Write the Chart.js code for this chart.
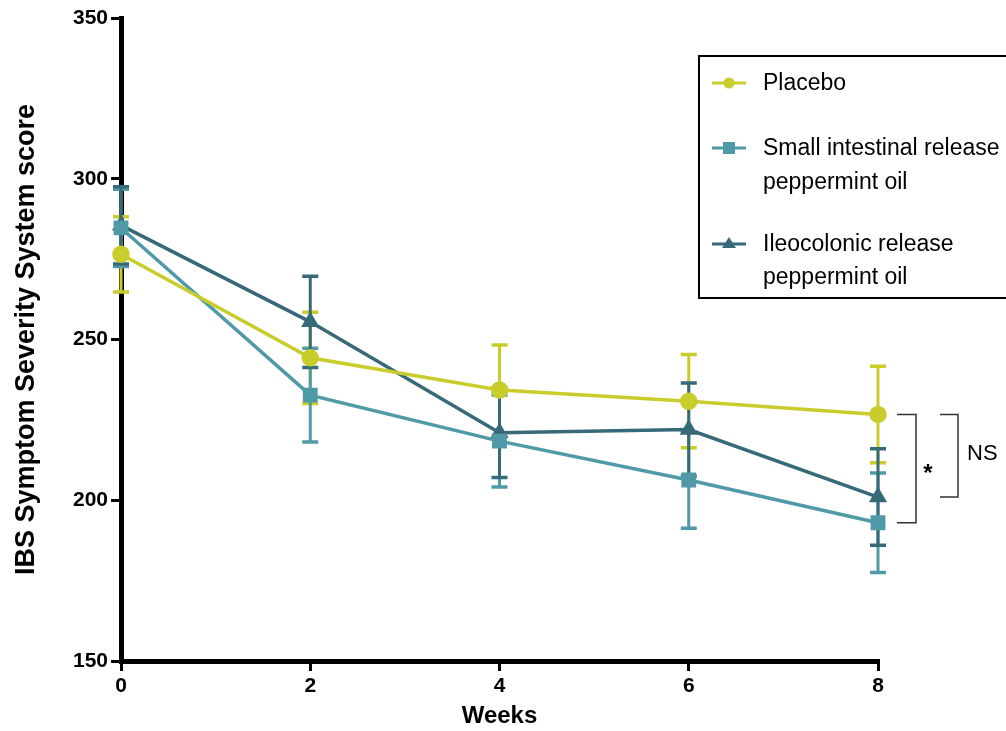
<!DOCTYPE html>
<html>
<head>
<meta charset="utf-8">
<script src="https://cdn.jsdelivr.net/npm/chart.js@4"></script>
<style>
  html, body { margin: 0; padding: 0; background: #ffffff; }
  #wrap { width: 1006px; height: 731px; }
</style>
</head>
<body>
<div id="wrap"><canvas id="c" width="1006" height="731"></canvas></div>
<script>
// ---- data ----
const weeks = [0, 2, 4, 6, 8];
const placebo = [276.5, 244.3, 234.3, 230.8, 226.7];
const placeboErr = [11.7, 14.2, 14.0, 14.5, 15.0];
const smallIntestinal = [284.7, 232.7, 218.4, 206.3, 193.0];
const smallIntestinalErr = [12.0, 14.6, 14.3, 15.0, 15.5];
const ileocolonic = [285.5, 255.5, 221.0, 222.0, 201.0];
const ileocolonicErr = [12.0, 14.2, 13.9, 14.5, 15.0];
const yTicks = [150, 200, 250, 300, 350];
const xTicks = [0, 2, 4, 6, 8];
const seriesNames = ['Placebo', 'Small intestinal release\npeppermint oil', 'Ileocolonic release\npeppermint oil'];

const COL_P = '#c9cd2c';
const COL_S = '#4f9aa6';
const COL_I = '#376a78';
const FONT = '"Liberation Sans", Arial, Helvetica, sans-serif';

function pts(vals) { return weeks.map((w, i) => ({ x: w, y: vals[i] })); }

const errorBars = {
  id: 'errorBars',
  beforeDatasetsDraw(chart) {
    const ctx = chart.ctx;
    const xs = chart.scales.x, ys = chart.scales.y;
    const errs = [placeboErr, smallIntestinalErr, ileocolonicErr];
    const vals = [placebo, smallIntestinal, ileocolonic];
    const cols = [COL_P, COL_S, COL_I];
    ctx.save();
    for (let d = 0; d < 3; d++) {
      ctx.strokeStyle = cols[d];
      for (let i = 0; i < weeks.length; i++) {
        const px = xs.getPixelForValue(weeks[i]);
        const top = ys.getPixelForValue(vals[d][i] + errs[d][i]);
        const bot = ys.getPixelForValue(vals[d][i] - errs[d][i]);
        ctx.lineWidth = 3;
        ctx.beginPath();
        ctx.moveTo(px, top); ctx.lineTo(px, bot);
        ctx.stroke();
        ctx.lineWidth = 3.5;
        ctx.beginPath();
        ctx.moveTo(px - 8, top); ctx.lineTo(px + 8, top);
        ctx.moveTo(px - 8, bot); ctx.lineTo(px + 8, bot);
        ctx.stroke();
      }
    }
    ctx.restore();
  }
};

const extras = {
  id: 'extras',
  afterDraw(chart) {
    const ctx = chart.ctx;
    const xs = chart.scales.x, ys = chart.scales.y;
    const x8 = xs.getPixelForValue(weeks[4]);
    ctx.save();
    // significance brackets
    ctx.strokeStyle = '#333333';
    ctx.lineWidth = 1.5;
    const yP = ys.getPixelForValue(placebo[4]);
    const yS = ys.getPixelForValue(smallIntestinal[4]);
    const yI = ys.getPixelForValue(ileocolonic[4]);
    ctx.beginPath();
    ctx.moveTo(x8 + 19, yP); ctx.lineTo(x8 + 38, yP); ctx.lineTo(x8 + 38, yS); ctx.lineTo(x8 + 19, yS);
    ctx.stroke();
    ctx.beginPath();
    ctx.moveTo(x8 + 62, yP); ctx.lineTo(x8 + 80, yP); ctx.lineTo(x8 + 80, yI); ctx.lineTo(x8 + 62, yI);
    ctx.stroke();
    ctx.fillStyle = '#000000';
    ctx.textBaseline = 'middle';
    ctx.textAlign = 'center';
    ctx.font = 'bold 24px ' + FONT;
    ctx.fillText('*', x8 + 50, (yP + yS) / 2 + 6);
    ctx.textAlign = 'left';
    ctx.font = '22px ' + FONT;
    ctx.fillText('NS', x8 + 89, (yP + yI) / 2 - 2);

    // legend box
    ctx.strokeStyle = '#000000';
    ctx.lineWidth = 2;
    ctx.strokeRect(699, 56, 330, 242);
    const items = [
      { col: COL_P, style: 'circle', ys: [84] },
      { col: COL_S, style: 'rect', ys: [149, 183] },
      { col: COL_I, style: 'triangle', ys: [245, 278] }
    ];
    ctx.font = '23px ' + FONT;
    items.forEach((it, k) => {
      const y0 = it.ys[0];
      ctx.strokeStyle = it.col;
      ctx.fillStyle = it.col;
      ctx.lineWidth = 3;
      ctx.beginPath(); ctx.moveTo(712, y0 - 1); ctx.lineTo(746, y0 - 1); ctx.stroke();
      ctx.beginPath();
      if (it.style === 'circle') { ctx.arc(729, y0 - 1, 5.5, 0, Math.PI * 2); ctx.fill(); }
      else if (it.style === 'rect') { ctx.fillRect(723, y0 - 7, 12, 12); }
      else { ctx.moveTo(729, y0 - 8); ctx.lineTo(736, y0 + 3); ctx.lineTo(722, y0 + 3); ctx.closePath(); ctx.fill(); }
      ctx.fillStyle = '#000000';
      ctx.textAlign = 'left';
      ctx.textBaseline = 'middle';
      seriesNames[k].split('\n').forEach((line, j) => ctx.fillText(line, 763, it.ys[j]));
    });
    ctx.restore();
  }
};

new Chart(document.getElementById('c'), {
  type: 'line',
  data: {
    datasets: [
      { label: 'Placebo', data: pts(placebo), borderColor: COL_P, backgroundColor: COL_P,
        pointStyle: 'circle', pointRadius: 7, borderWidth: 3.5, clip: false },
      { label: 'Small intestinal release peppermint oil', data: pts(smallIntestinal), borderColor: COL_S, backgroundColor: COL_S,
        pointStyle: 'rect', pointRadius: 8, borderWidth: 3.5, clip: false },
      { label: 'Ileocolonic release peppermint oil', data: pts(ileocolonic), borderColor: COL_I, backgroundColor: COL_I,
        pointStyle: 'triangle', pointRadius: 7, borderWidth: 3.5, clip: false }
    ]
  },
  options: {
    responsive: false,
    animation: false,
    devicePixelRatio: 1,
    layout: { padding: { top: 18, right: 128, left: 0, bottom: 0 } },
    plugins: { legend: { display: false }, tooltip: { enabled: false } },
    scales: {
      x: {
        type: 'linear', min: 0, max: 8,
        afterBuildTicks(s) { s.ticks = xTicks.map(v => ({ value: v })); },
        afterFit(s) { s.height = 70; },
        ticks: { color: '#000', font: { family: FONT, size: 21, weight: 'bold' }, padding: 3, maxRotation: 0 },
        grid: { drawOnChartArea: false, drawTicks: true, tickLength: 10, lineWidth: 3, color: '#000' },
        border: { display: true, color: '#000', width: 5 },
        title: { display: true, text: 'Weeks', color: '#000', font: { family: FONT, size: 24, weight: 'bold' }, padding: { top: 2, bottom: 0 } }
      },
      y: {
        type: 'linear', min: 150, max: 350,
        afterBuildTicks(s) { s.ticks = yTicks.map(v => ({ value: v })); },
        afterFit(s) { s.width = 121; },
        ticks: { color: '#000', font: { family: FONT, size: 21, weight: 'bold' }, padding: 3 },
        grid: { drawOnChartArea: false, drawTicks: true, tickLength: 10, lineWidth: 3, color: '#000' },
        border: { display: true, color: '#000', width: 5 },
        title: { display: true, text: 'IBS Symptom Severity System score', color: '#000', font: { family: FONT, size: 27, weight: 'bold' }, padding: { top: 10, bottom: 10 } }
      }
    }
  },
  plugins: [errorBars, extras]
});
</script>
</body>
</html>
